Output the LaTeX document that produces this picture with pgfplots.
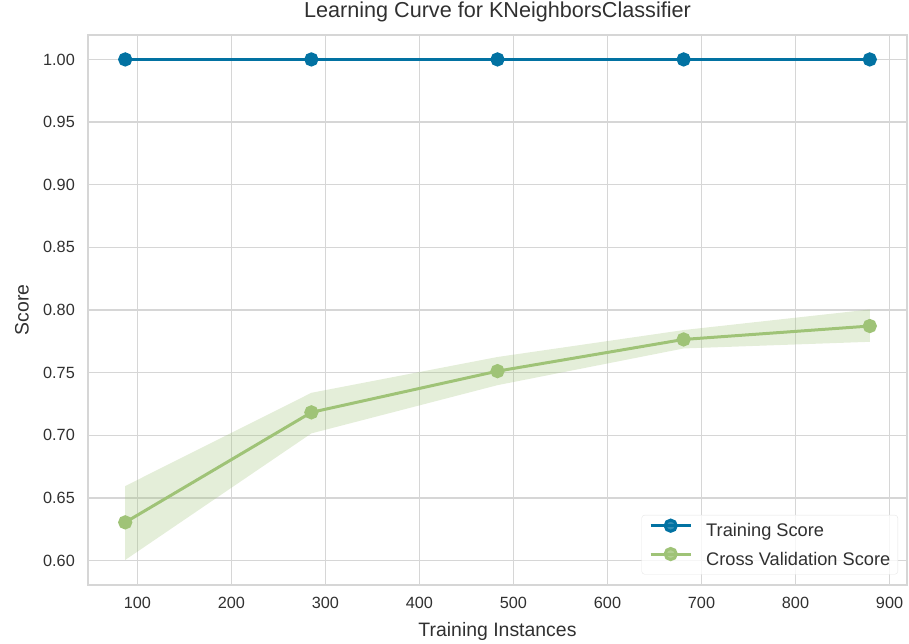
\documentclass[border=0pt]{standalone}
\usepackage{pgfplots}
\pgfplotsset{compat=1.18}
\usepgfplotslibrary{fillbetween}
\usepackage{fontspec}
\setmainfont{Liberation Sans}
\definecolor{trainblue}{HTML}{0272A2}
\definecolor{cvgreen}{HTML}{9FC377}
\definecolor{gridgray}{HTML}{D6D6D6}
\definecolor{textgray}{HTML}{303030}
\begin{document}
\begin{tikzpicture}
\begin{axis}[
  at={(0,0)}, anchor=south west,
  scale only axis,
  width=819bp, height=550bp,
  xmin=47.4, xmax=918.6,
  ymin=0.5805, ymax=1.0195,
  xtick={100,200,...,900},
  ytick={0.60,0.65,...,1.0},
  yticklabel style={/pgf/number format/fixed,/pgf/number format/fixed zerofill,/pgf/number format/precision=2},
  /pgf/number format/assume math mode=true,
  tick style={draw=none},
  grid=major,
  major grid style={draw=gridgray, line width=1.2bp},
  axis line style={draw=gridgray, line width=1.2bp},
  axis lines=box,
  ticklabel style={font=\fontsize{16.3}{18}\selectfont, text=textgray, inner sep=0pt},
  xticklabel style={anchor=base, yshift=-23bp},
  yticklabel style={anchor=east, xshift=-13bp},
  xlabel={Training Instances},
  ylabel={Score},
  label style={font=\fontsize{19.5}{22}\selectfont, text=textgray, inner sep=0pt},
  xlabel style={at={(axis description cs:0.5,0)}, anchor=base, yshift=-51bp},
  ylabel style={at={(axis description cs:-0.0725,0.5)}, anchor=base},
  title={Learning Curve for KNeighborsClassifier},
  title style={font=\fontsize{21.7}{24}\selectfont, text=textgray, inner sep=0pt, at={(axis description cs:0.5,1)}, anchor=base, yshift=11.5bp},
  legend style={font=\fontsize{18.3}{20}\selectfont, text=textgray, draw=gridgray!60, fill=white, fill opacity=0.8, text opacity=1, rounded corners=3pt, inner xsep=7.5bp, inner ysep=5bp, row sep=7.5bp,
    nodes={inner sep=0pt, text height=13.5bp, text depth=4bp},
    /tikz/every odd column/.append style={column sep=14bp},
    at={(1,0)}, anchor=south east, xshift=-9bp, yshift=10.5bp},
  legend cell align=left,
  legend image code/.code={
    \draw[#1, mark=none] (0bp,6.5bp) -- (40bp,6.5bp);
    \draw[#1, only marks] plot coordinates {(20bp,6.5bp)};
  },
]
\addplot[name path=upper, draw=none, forget plot] coordinates {
(87,0.6595) (285,0.7339) (483,0.7625) (681,0.7840) (879,0.8004)};
\addplot[name path=lower, draw=none, forget plot] coordinates {
(87,0.6005) (285,0.7015) (483,0.7400) (681,0.7693) (879,0.7746)};
\addplot[cvgreen, fill opacity=0.28, forget plot] fill between[of=upper and lower];
\addplot[trainblue, line width=3bp, mark=*, mark size=5.6bp] coordinates {
(87,1.0) (285,1.0) (483,1.0) (681,1.0) (879,1.0)};
\addlegendentry{Training Score}
\addplot[cvgreen, line width=3bp, mark=*, mark size=5.6bp] coordinates {
(87,0.6305) (285,0.7183) (483,0.7512) (681,0.7765) (879,0.7872)};
\addlegendentry{Cross Validation Score}
\end{axis}
\pgfresetboundingbox
\useasboundingbox (-88bp,-59bp) rectangle (821bp,585bp);
\end{tikzpicture}
\end{document}
